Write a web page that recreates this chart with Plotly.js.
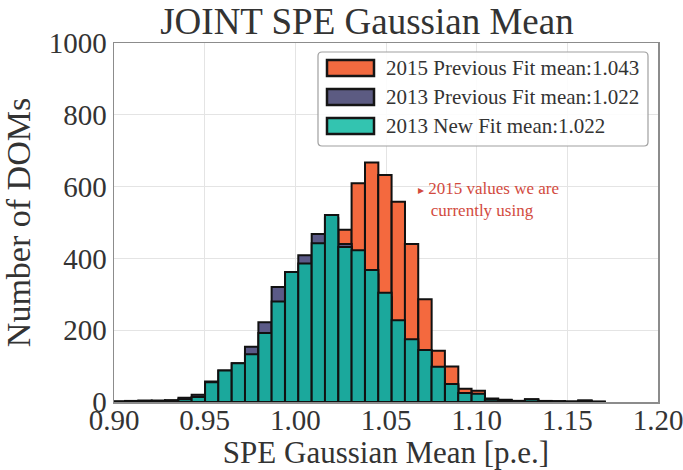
<!DOCTYPE html>
<html>
<head>
<meta charset="utf-8">
<script src="https://cdn.plot.ly/plotly-3.0.1.min.js"></script>
<style>
  html, body { margin: 0; padding: 0; background: #fff; }
  #chart { width: 683px; height: 470px; }
</style>
</head>
<body>
<div id="chart"></div>
<script>
// Histogram bin centres (bin width 0.00735 p.e.)
const binCenters = [
  0.9024, 0.9098, 0.9171, 0.9245, 0.9318, 0.9392, 0.9465,
  0.9539, 0.9612, 0.9686, 0.9759, 0.9833, 0.9906, 0.9980,
  1.0053, 1.0127, 1.0200, 1.0274, 1.0347, 1.0421, 1.0494,
  1.0568, 1.0641, 1.0715, 1.0788, 1.0862, 1.0935, 1.1009,
  1.1082, 1.1156, 1.1229, 1.1303, 1.1376, 1.1450, 1.1523,
  1.1597, 1.1670
];
const binWidth = 0.00735;

// Counts per bin for each fit
const fit2015Prev = [
  0, 1, 1, 2, 3, 5, 8,
  12, 22, 35, 55, 85, 125, 170,
  230, 300, 380, 480, 609, 667, 632,
  558, 440, 286, 143, 99, 37, 31,
  10, 6, 3, 8, 3, 2, 1,
  4, 1
];
const fit2013Prev = [
  2, 3, 4, 4, 5, 12, 20,
  57, 88, 108, 154, 222, 320, 360,
  409, 468, 512, 440, 410, 355, 292,
  220, 166, 138, 92, 46, 22, 20,
  5, 4, 2, 6, 2, 1, 1,
  3, 0
];
const fit2013New = [
  1, 2, 3, 3, 4, 8, 14,
  55, 88, 108, 133, 192, 280, 362,
  386, 442, 521, 432, 423, 368, 304,
  228, 175, 145, 98, 50, 25, 23,
  6, 5, 3, 7, 2, 2, 1,
  4, 1
];

const seriesNames = [
  '2015 Previous Fit mean:1.043',
  '2013 Previous Fit mean:1.022',
  '2013 New Fit mean:1.022'
];
const barColors = ['#f4693e', '#5b5a87', '#1ba89c'];
const keyColors = ['#f26a40', '#5c5b82', '#33c4b0'];

const xTicks = [0.90, 0.95, 1.00, 1.05, 1.10, 1.15, 1.20];
const xTickText = ['0.90', '0.95', '1.00', '1.05', '1.10', '1.15', '1.20'];
const yTicks = [0, 200, 400, 600, 800, 1000];

const serif = 'Liberation Serif, Times New Roman, serif';

function barTrace(values, i) {
  return {
    type: 'bar',
    x: binCenters,
    y: values,
    width: binWidth,
    name: seriesNames[i],
    marker: { color: barColors[i], line: { color: '#111', width: 2 } },
    hoverinfo: 'x+y+name'
  };
}

const data = [
  barTrace(fit2015Prev, 0),
  barTrace(fit2013Prev, 1),
  barTrace(fit2013New, 2)
];

// Hand-drawn key in paper coordinates (plot box is 544 x 359 px)
const PW = 544, PH = 359, L = 114, T = 43;
const px = v => (v - L) / PW;
const py = v => (T + PH - v) / PH;

const shapes = [];
const annotations = [];

// key frame with rounded corners
(function () {
  const x0 = px(318), x1 = px(648), y0 = py(146), y1 = py(52);
  const r = 4;
  const rx = r / PW, ry = r / PH;
  const path =
    `M ${x0 + rx},${y1} L ${x1 - rx},${y1} Q ${x1},${y1} ${x1},${y1 - ry} ` +
    `L ${x1},${y0 + ry} Q ${x1},${y0} ${x1 - rx},${y0} ` +
    `L ${x0 + rx},${y0} Q ${x0},${y0} ${x0},${y0 + ry} ` +
    `L ${x0},${y1 - ry} Q ${x0},${y1} ${x0 + rx},${y1} Z`;
  shapes.push({
    type: 'path', xref: 'paper', yref: 'paper', path: path,
    fillcolor: 'rgba(255,255,255,0.88)', line: { color: '#a0a0a0', width: 1.2 }
  });
})();

const rowY = [68, 97, 126];
seriesNames.forEach((name, i) => {
  shapes.push({
    type: 'rect', xref: 'paper', yref: 'paper',
    x0: px(327), x1: px(374), y0: py(rowY[i] + 8), y1: py(rowY[i] - 8),
    fillcolor: keyColors[i], line: { color: '#151515', width: 2.5 }
  });
  annotations.push({
    xref: 'paper', yref: 'paper', x: px(384), y: py(rowY[i]),
    xanchor: 'left', yanchor: 'middle', showarrow: false,
    text: name, font: { family: serif, size: 21, color: '#333' }
  });
});

// side note next to the 2015 peak
annotations.push({
  xref: 'paper', yref: 'paper', x: px(416), y: py(199),
  xanchor: 'left', yanchor: 'middle', showarrow: false, align: 'left',
  text: '<span style="font-size:12px">\u25B8</span> 2015 values we are<br>   currently using',
  font: { family: serif, size: 17, color: '#d24a3e' }
});

const axisCommon = {
  showgrid: true, gridcolor: '#e4e4e4', gridwidth: 1,
  zeroline: false, showline: true, mirror: true,
  linecolor: '#8c8c8c', linewidth: 1.5, ticks: '',
  ticklabeloverflow: 'allow',
  tickfont: { family: serif, size: 29, color: '#333' }
};

const layout = {
  width: 683, height: 470,
  margin: { l: 114, r: 25, t: 43, b: 68 },
  paper_bgcolor: '#fff', plot_bgcolor: '#fff',
  barmode: 'overlay',
  showlegend: false,
  title: {
    text: 'JOINT SPE Gaussian Mean',
    font: { family: serif, size: 37, color: '#333' },
    xref: 'paper', x: 0.465, xanchor: 'center',
    yref: 'container', y: 0.955, yanchor: 'middle'
  },
  xaxis: Object.assign({}, axisCommon, {
    range: [0.90, 1.20], tickvals: xTicks, ticktext: xTickText,
    ticklabelstandoff: -8,
    title: { text: 'SPE Gaussian Mean [p.e.]', font: { family: serif, size: 31, color: '#333' }, standoff: 4 }
  }),
  yaxis: Object.assign({}, axisCommon, {
    range: [0, 1000], tickvals: yTicks,
    title: { text: 'Number of DOMs', font: { family: serif, size: 34, color: '#333' }, standoff: 8 }
  }),
  shapes: shapes,
  annotations: annotations
};

Plotly.newPlot('chart', data, layout, { displayModeBar: false, staticPlot: true });
</script>
</body>
</html>
